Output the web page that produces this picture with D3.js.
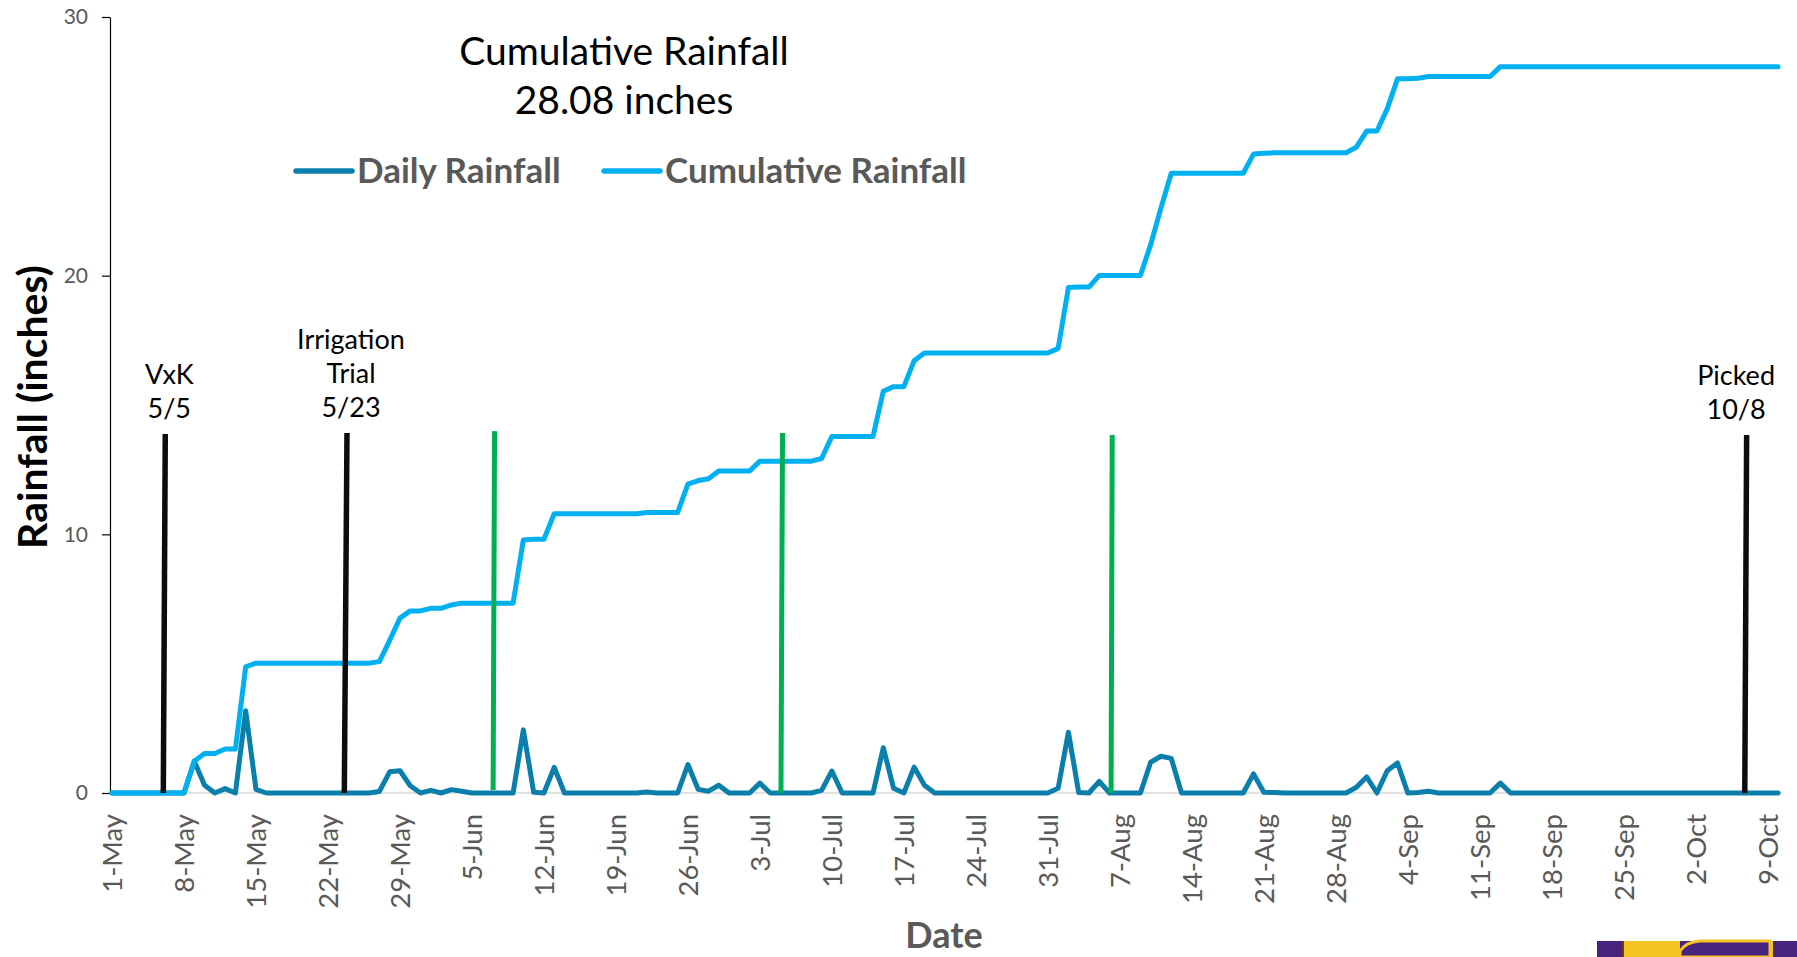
<!DOCTYPE html>
<html>
<head>
<meta charset="utf-8">
<script src="https://cdn.jsdelivr.net/npm/d3@7"></script>
<style>
  html, body { margin: 0; padding: 0; background: #ffffff; }
  svg { display: block; font-family: Lato, "Open Sans", sans-serif; }
</style>
</head>
<body>
<svg id="chart" width="1797" height="957"></svg>
<script>
// Season start; one daily reading per day from here on.
const seasonStart = "1-May-2019";

// Daily rainfall (inches), one row per week starting 1-May.
const dailyRainfall = [
  0, 0, 0, 0, 0, 0, 0,
  0, 1.23, 0.30, 0, 0.17, 0, 3.18,
  0.14, 0, 0, 0, 0, 0, 0,
  0, 0, 0, 0, 0, 0.06, 0.82,
  0.86, 0.28, 0, 0.10, 0, 0.13, 0.07,
  0, 0, 0, 0, 0, 2.44, 0.03,
  0, 0.99, 0, 0, 0, 0, 0,
  0, 0, 0, 0.04, 0, 0, 0,
  1.10, 0.14, 0.07, 0.30, 0, 0, 0,
  0.38, 0, 0, 0, 0, 0, 0.10,
  0.85, 0, 0, 0, 0, 1.75, 0.18,
  0, 1.00, 0.30, 0, 0, 0, 0,
  0, 0, 0, 0, 0, 0, 0,
  0, 0.18, 2.35, 0.02, 0, 0.45, 0,
  0, 0, 0, 1.19, 1.42, 1.34, 0,
  0, 0, 0, 0, 0, 0, 0.74,
  0.03, 0.02, 0, 0, 0, 0, 0,
  0, 0, 0.22, 0.62, 0, 0.86, 1.16,
  0, 0.02, 0.07, 0, 0, 0, 0,
  0, 0, 0.38, 0, 0, 0, 0,
  0, 0, 0, 0, 0, 0, 0,
  0, 0, 0, 0, 0, 0, 0,
  0, 0, 0, 0, 0, 0, 0,
  0, 0
];

// Running season total.
const cumulativeRainfall = Array.from(d3.cumsum(dailyRainfall));

const seriesNames = ["Daily Rainfall", "Cumulative Rainfall"];
const yTickValues = [0, 10, 20, 30];
const xTickLabels = [
  "1-May", "8-May", "15-May", "22-May", "29-May", "5-Jun", "12-Jun", "19-Jun",
  "26-Jun", "3-Jul", "10-Jul", "17-Jul", "24-Jul", "31-Jul", "7-Aug", "14-Aug",
  "21-Aug", "28-Aug", "4-Sep", "11-Sep", "18-Sep", "25-Sep", "2-Oct", "9-Oct"
];

// Field events: days after 1-May (top / bottom of each marker) and heights in inches.
const eventLabels    = [["VxK", "5/5"], ["Irrigation", "Trial", "5/23"], [], [], [], ["Picked", "10/8"]];
const eventKinds     = ["event", "event", "spray", "spray", "spray", "event"];
const eventDayTop    = [5.18, 22.85, 37.2, 65.2, 97.26, 158.95];
const eventDayBottom = [4.99, 22.59, 37.06, 65.05, 97.15, 158.77];
const eventTop       = [13.88, 13.92, 13.99, 13.92, 13.84, 13.84];
const eventBottom    = [0, 0, 0.12, 0, 0, 0];

// ---------------------------------------------------------------------------
const svg = d3.select("#chart");
const W = 1797, H = 957;
svg.append("rect").attr("width", W).attr("height", H).attr("fill", "#ffffff");

const DAY = 864e5;
const parseLabel = d3.utcParse("%d-%b-%Y");
const t0 = parseLabel(seasonStart);
const dayToDate = d => new Date(t0.getTime() + d * DAY);
const lastDay = dailyRainfall.length - 1;

const x = d3.scaleUtc().domain([t0, dayToDate(lastDay)]).range([112, 1778]);
const y = d3.scaleLinear().domain([0, 30]).range([793, 17]);

const colors = {
  daily: "#0b7fab",
  cumulative: "#00b0f0",
  event: "#0d0d0d",
  spray: "#00b050",
  tickText: "#595959"
};

// Horizontal category axis line
svg.append("line")
  .attr("x1", 110).attr("x2", 1782)
  .attr("y1", y(0)).attr("y2", y(0))
  .attr("stroke", "#d9d9d9").attr("stroke-width", 1.5);

// Y axis
const yAxis = svg.append("g")
  .attr("transform", "translate(110,0)")
  .call(d3.axisLeft(y).tickValues(yTickValues).tickSize(8).tickSizeOuter(0).tickPadding(14));
yAxis.select(".domain").attr("stroke", "#000").attr("stroke-width", 1.2);
yAxis.selectAll(".tick line").attr("stroke", "#000").attr("stroke-width", 1.2);
yAxis.selectAll(".tick text")
  .attr("fill", colors.tickText)
  .style("font-family", "Lato")
  .style("font-size", "21px");

// X axis labels, rotated
const xTickDates = xTickLabels.map(s => parseLabel(s + "-2019"));
const xAxis = svg.append("g")
  .attr("transform", `translate(0,${y(0)})`)
  .call(d3.axisBottom(x).tickValues(xTickDates).tickFormat((d, i) => xTickLabels[i]).tickSize(0));
xAxis.select(".domain").remove();
xAxis.selectAll(".tick text")
  .attr("transform", "rotate(-90)")
  .attr("text-anchor", "end")
  .attr("x", -21)
  .attr("y", 0)
  .attr("dy", "0.36em")
  .attr("fill", colors.tickText)
  .style("font-family", "Lato")
  .style("font-size", "27.5px");

// Axis titles
svg.append("text")
  .attr("transform", "translate(47,407) rotate(-90)")
  .attr("text-anchor", "middle")
  .style("font-family", "Lato").style("font-weight", "bold").style("font-size", "41px")
  .attr("fill", "#000")
  .text("Rainfall (inches)");

svg.append("text")
  .attr("x", 944).attr("y", 948)
  .attr("text-anchor", "middle")
  .style("font-family", "Lato").style("font-weight", "bold").style("font-size", "36px")
  .attr("fill", colors.tickText)
  .text("Date");

// Series lines
const line = d3.line()
  .x((d, i) => x(dayToDate(i)))
  .y(d => y(d));

svg.append("path")
  .datum(dailyRainfall)
  .attr("d", line)
  .attr("fill", "none")
  .attr("stroke", colors.daily)
  .attr("stroke-width", 5)
  .attr("stroke-linejoin", "round")
  .attr("stroke-linecap", "round");

svg.append("path")
  .datum(cumulativeRainfall)
  .attr("d", line)
  .attr("fill", "none")
  .attr("stroke", colors.cumulative)
  .attr("stroke-width", 5)
  .attr("stroke-linejoin", "round")
  .attr("stroke-linecap", "round");

// Event markers
const events = eventKinds.map((k, i) => ({
  kind: k, labels: eventLabels[i],
  dTop: eventDayTop[i], dBot: eventDayBottom[i],
  top: eventTop[i], bottom: eventBottom[i]
}));

svg.append("g").selectAll("line")
  .data(events)
  .join("line")
  .attr("x1", d => x(dayToDate(d.dBot)))
  .attr("y1", d => y(d.bottom))
  .attr("x2", d => x(dayToDate(d.dTop)))
  .attr("y2", d => y(d.top))
  .attr("stroke", d => colors[d.kind])
  .attr("stroke-width", d => d.kind === "spray" ? 5 : 5.5);

const labelGroup = svg.append("g")
  .style("font-family", "Lato")
  .style("font-size", "27px")
  .attr("fill", "#000");

events.filter(d => d.labels.length).forEach(d => {
  const lx = x(dayToDate(d.dTop));
  const yLast = y(d.top) - 16;
  const t = labelGroup.append("text").attr("text-anchor", "middle");
  d.labels.forEach((s, j) => {
    t.append("tspan")
      .attr("x", lx)
      .attr("y", yLast - (d.labels.length - 1 - j) * 34)
      .text(s);
  });
  // keep the block inside the plot on the right
  const bb = t.node().getBBox();
  const shift = Math.min(4, 1775 - (bb.x + bb.width));
  t.selectAll("tspan").attr("x", lx + shift);
});

// Title
const total = cumulativeRainfall[cumulativeRainfall.length - 1];
const title = svg.append("text")
  .attr("text-anchor", "middle")
  .style("font-family", "Lato").style("font-size", "39px")
  .attr("fill", "#000");
title.append("tspan").attr("x", 624).attr("y", 65).text("Cumulative Rainfall");
title.append("tspan").attr("x", 624).attr("y", 114).text(`${total.toFixed(2)} inches`);

// Legend
const legend = svg.append("g")
  .style("font-family", "Lato").style("font-weight", "bold").style("font-size", "35px");
const legendItems = [
  { name: seriesNames[0], color: colors.daily, x0: 296 },
  { name: seriesNames[1], color: colors.cumulative, x0: 604 }
];
legendItems.forEach(it => {
  legend.append("line")
    .attr("x1", it.x0).attr("x2", it.x0 + 56)
    .attr("y1", 171).attr("y2", 171)
    .attr("stroke", it.color).attr("stroke-width", 5.5).attr("stroke-linecap", "round");
  legend.append("text")
    .attr("x", it.x0 + 61).attr("y", 183)
    .attr("fill", colors.tickText)
    .text(it.name);
});

// Corner badge
const badge = svg.append("g");
badge.append("rect").attr("x", 1597).attr("y", 941).attr("width", 200).attr("height", 16).attr("fill", "#46237f");
badge.append("rect").attr("x", 1622).attr("y", 941).attr("width", 58).attr("height", 16).attr("fill", "#f6c324");
badge.append("rect").attr("x", 1622).attr("y", 941).attr("width", 2).attr("height", 16).attr("fill", "#6b3a1f");
badge.append("path")
  .attr("d", "M1680,957 L1680,951 Q1686,942 1700,941 L1770,941 L1770,957 Z")
  .attr("fill", "#46237f").attr("stroke", "#f6c324").attr("stroke-width", 3);
badge.append("rect").attr("x", 1769).attr("y", 941).attr("width", 4).attr("height", 16).attr("fill", "#f6c324");
</script>
</body>
</html>
